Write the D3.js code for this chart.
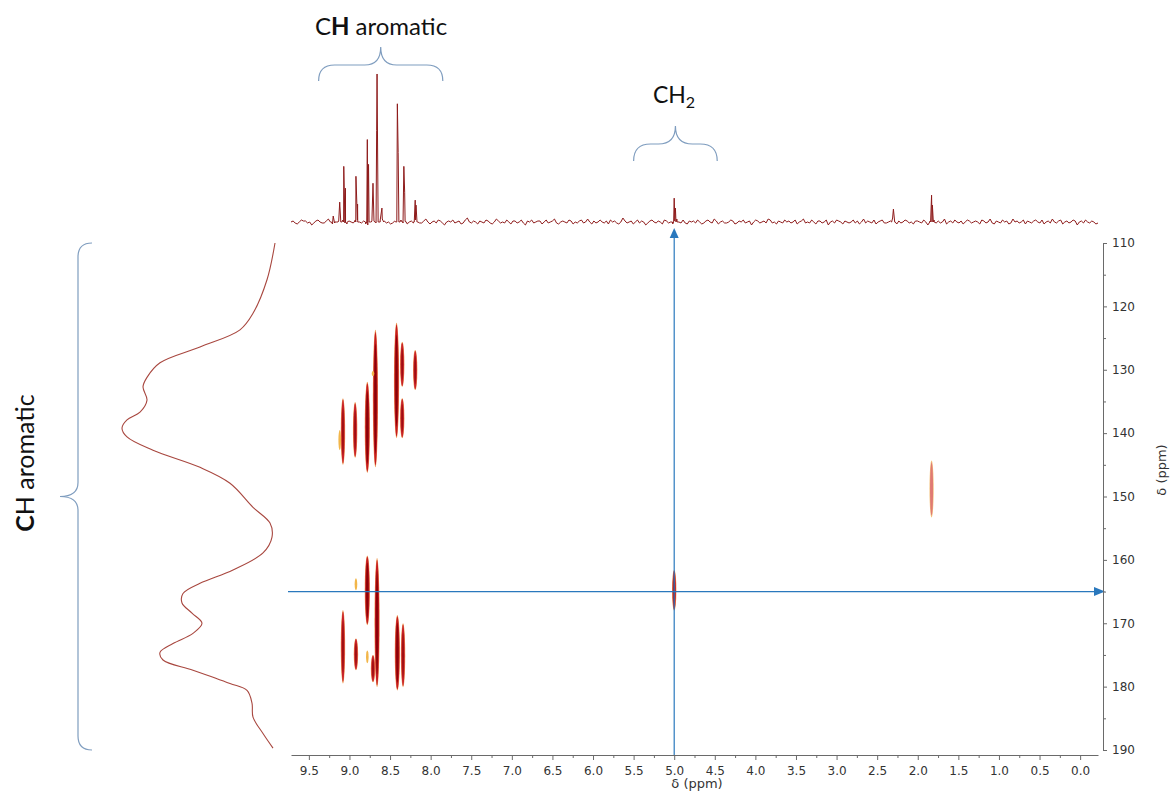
<!DOCTYPE html>
<html>
<head>
<meta charset="utf-8">
<script src="https://cdn.jsdelivr.net/npm/d3@7"></script>
<style>
  html, body { margin: 0; padding: 0; background: #fff; }
  svg { display: block; }
</style>
</head>
<body>
<svg id="chart" width="1173" height="796"></svg>
<script>
// ---- 1H (F2) axis ticks and 13C (F1) axis ticks ----
const hTicks = [9.5, 9.0, 8.5, 8.0, 7.5, 7.0, 6.5, 6.0, 5.5, 5.0, 4.5, 4.0, 3.5, 3.0, 2.5, 2.0, 1.5, 1.0, 0.5, 0.0];
const cTicks = [110, 120, 130, 140, 150, 160, 170, 180, 190];

// ---- 1D 1H trace above the map: peaks [ppm, height] ----
const protonPeaks = [
  [9.20, 6], [9.12, 20], [9.07, 56], [9.05, 34], [8.92, 46], [8.90, 18],
  [8.78, 83], [8.765, 58], [8.71, 39], [8.665, 92], [8.66, 149], [8.60, 14],
  [8.41, 119], [8.40, 70], [8.33, 56], [8.32, 30], [8.19, 22], [8.18, 17],
  [5.00, 24], [4.985, 14], [2.30, 13], [1.83, 27], [1.82, 17]
];
// baseline noise of the 1H trace, evenly spaced over the plotted range
const protonNoise = [
  0,1,-1,-2,0,2,1,1,-1,0,-3,-1,1,2,0,-1,-1,1,3,0,-2,-1,0,1,0,2,-1,-2,1,0,
  -1,2,2,0,-1,1,-2,-3,0,1,1,-1,0,2,3,1,-1,0,-2,-1,1,0,0,2,-1,1,-2,0,1,-1,
  2,0,-1,-1,1,3,0,-2,0,1,-1,2,1,-1,-3,0,1,0,2,-1,0,1,-2,-1,2,4,0,-1,1,0,
  -2,1,0,-1,2,1,-1,-2,0,3,1,-1,0,-1,2,0,-2,1,1,-1,0,2,-1,-3,1,0,2,-1,0,1,
  1,-2,0,2,-1,0,1,3,-1,-2,0,1,0,-1,2,1,-2,0,-1,1,2,-1,0,3,0,-2,1,-1,0,2,
  0,-1,1,-2,2,0,1,-1,-2,0,4,1,-1,0,1,-2,0,2,-1,1,0,-3,-1,1,2,0,-1,1,0,-2,
  2,1,-1,0,-2,1,3,0,-1,2,-1,-2,1,0,1,-1,2,0,-2,-1,1,2,0,-1,3,1,-2,0,1,-1,
  -1,0,2,1,-2,-1,1,0,2,-1,0,1,-3,0,2,1,-1,0,1,-1,3,2,-1,0,-2,1,0,-1,2,0,
  1,-1,0,2,-2,0,1,3,-1,0,-1,2,0,-2,1,1,-1,0,2,-3,0,1,-1,2,1,0,-2,1,0,-1,
  0,2,-1,1,-2,0,3,-1,1,0,-1,2,-2,0,1,2,-1,-1,0,1,4,0,-2,1,-1,0,2,1,-1,0,
  -2,1,1,0,-1,2,0,-3,1,0,2,-1,1,-1,0,3,-2,0,1,-1,2,0,-1,1,-2,0,2,1,-1,0,
  1,0,-2,2,1,-1,0,3,-1,-2,1,0,-1,2,0,1,-2,-1,3,0,1,-1,0,2,-2,1,0,-1,1,2,
  0,-1,2,-2,0,1,-1,3,0,-1,1,2,-2,0,1,-1,0,2,1,-3,0,1,-1,2,0,-1,1,0,-2,-1
];

// ---- 13C projection on the left: [ppm, intensity] ----
const carbonProjection = [
  [110.0, 3], [115.8, 11], [121.1, 25], [123.7, 38], [126.4, 78], [128.9, 118],
  [131.2, 131], [132.7, 135], [134.8, 131], [136.7, 138], [137.9, 151], [139.2, 156],
  [140.6, 151], [142.7, 125], [145.4, 78], [147.9, 48], [151.7, 25], [154.2, 8],
  [156.4, 6], [158.9, 15], [161.6, 45], [163.7, 78], [165.3, 95], [166.8, 96],
  [168.4, 86], [170.0, 76], [171.6, 85], [173.2, 105], [174.6, 118], [175.8, 115],
  [177.4, 85], [179.5, 48], [180.6, 31], [182.6, 26], [184.8, 25], [187.4, 15], [189.7, 5]
];

// ---- HSQC cross peaks: [1H ppm, 13C from, 13C to, level] ----
const crossPeaks = [
  [9.08, 134.5, 145.0, 2], [9.12, 139.5, 142.7, 0], [8.93, 135.1, 143.9, 2],
  [8.78, 131.9, 146.3, 3], [8.68, 123.7, 145.4, 3], [8.71, 130.2, 131.0, 0],
  [8.42, 122.6, 140.8, 3], [8.35, 125.6, 132.7, 2], [8.35, 134.5, 140.8, 2],
  [8.19, 126.9, 133.2, 2],
  [9.08, 167.9, 179.5, 2], [8.92, 162.9, 164.8, 0], [8.92, 172.4, 177.4, 2],
  [8.78, 159.3, 170.3, 3], [8.78, 174.3, 176.3, 0], [8.71, 175.0, 179.3, 2],
  [8.66, 159.7, 180.1, 3], [8.41, 168.7, 180.6, 3], [8.34, 170.0, 180.1, 2],
  [5.00, 161.6, 168.0, 2], [1.83, 144.3, 153.3, 1]
];

// ---- highlighted correlation (CH2) ----
const markH = 5.0;
const markC = 165.0;

// ---- scales ----
const svg = d3.select("#chart");
const x = d3.scaleLinear().domain([9.72, -0.22]).range([291, 1098]);
const y = d3.scaleLinear().domain([110, 190]).range([243, 750]);
const yTrace = d3.scaleLinear().domain([0, 150]).range([222, 73]);
const xProj = d3.scaleLinear().domain([0, 156]).range([278, 122]);

svg.append("rect").attr("width", 1173).attr("height", 796).attr("fill", "#fff");

// ---- 1H trace ----
const step = (x.domain()[0] - x.domain()[1]) / (protonNoise.length - 1);
const tracePts = protonNoise.map((v, i) => [x.domain()[0] - i * step, v]);
protonPeaks.forEach(([p, h]) => {
  tracePts.push([p + 0.022, 0], [p, h], [p - 0.022, 0]);
});
tracePts.sort((a, b) => b[0] - a[0]);
svg.append("path")
  .datum(tracePts)
  .attr("fill", "none")
  .attr("stroke", "#8e1b1b")
  .attr("stroke-width", 1)
  .attr("stroke-linejoin", "round")
  .attr("d", d3.line().x(d => x(d[0])).y(d => yTrace(d[1])));

// ---- 13C projection ----
svg.append("path")
  .datum(carbonProjection)
  .attr("fill", "none")
  .attr("stroke", "#a8473f")
  .attr("stroke-width", 1.1)
  .attr("d", d3.line().curve(d3.curveCatmullRom.alpha(0.5))
    .x(d => xProj(d[1])).y(d => y(d[0])));

// ---- cross peaks, drawn as nested contour levels ----
const levelStyles = {
  0: [{ dx: 1.3, dy: 1.0, fill: "#f2b64a" }],
  1: [{ dx: 2.1, dy: 1.0, fill: "#f4c27a" }, { dx: 1.5, dy: 0.93, fill: "#e07a74" }],
  2: [{ dx: 2.2, dy: 1.0, fill: "#ef9a55" }, { dx: 1.7, dy: 0.96, fill: "#c8222a" }, { dx: 0.9, dy: 0.7, fill: "#9e0d12" }],
  3: [{ dx: 2.6, dy: 1.0, fill: "#ef9a55" }, { dx: 2.1, dy: 0.97, fill: "#c41a22" }, { dx: 1.2, dy: 0.8, fill: "#8a0308" }]
};
const peakG = svg.append("g");
crossPeaks.forEach(([h, c0, c1, lvl]) => {
  const cx = x(h), cy = y((c0 + c1) / 2), ry = Math.abs(y(c1) - y(c0)) / 2;
  levelStyles[lvl].forEach(s => {
    peakG.append("ellipse")
      .attr("cx", cx).attr("cy", cy)
      .attr("rx", s.dx).attr("ry", Math.max(ry * s.dy, 1.5))
      .attr("fill", s.fill);
  });
});

// ---- highlight lines with arrows ----
const blue = "#2a78bd";
svg.append("line")
  .attr("x1", x(markH)).attr("x2", x(markH))
  .attr("y1", 236).attr("y2", 755)
  .attr("stroke", blue).attr("stroke-width", 1.2);
svg.append("path")
  .attr("d", `M${x(markH)},228 L${x(markH) - 4.5},238 L${x(markH) + 4.5},238 Z`)
  .attr("fill", blue);
svg.append("line")
  .attr("x1", 288).attr("x2", 1096)
  .attr("y1", y(markC)).attr("y2", y(markC))
  .attr("stroke", blue).attr("stroke-width", 1.2);
svg.append("path")
  .attr("d", `M1105,${y(markC)} L1094,${y(markC) - 4.5} L1094,${y(markC) + 4.5} Z`)
  .attr("fill", blue);

// ---- axes ----
const minorH = d3.range(0.25, 9.72, 0.5);
svg.append("g").attr("transform", "translate(0,755)")
  .call(d3.axisBottom(x).tickValues(hTicks).tickFormat(d3.format(".1f")).tickSize(5).tickSizeOuter(0).tickPadding(6));
svg.append("g").attr("transform", "translate(0,755)")
  .call(d3.axisBottom(x).tickValues(minorH).tickFormat("").tickSize(3).tickSizeOuter(0))
  .select(".domain").remove();

const minorC = d3.range(115, 190, 10);
svg.append("g").attr("transform", "translate(1103,0)")
  .call(d3.axisRight(y).tickValues(cTicks).tickSize(4).tickSizeOuter(4).tickPadding(5));
svg.append("g").attr("transform", "translate(1103,0)")
  .call(d3.axisRight(y).tickValues(minorC).tickFormat("").tickSize(3).tickSizeOuter(0))
  .select(".domain").remove();

svg.selectAll(".domain").attr("stroke", "#6a6a6a");
svg.selectAll(".tick line").attr("stroke", "#6a6a6a");
svg.selectAll(".tick text")
  .attr("font-family", "'DejaVu Sans', Verdana, sans-serif")
  .attr("font-size", 12)
  .attr("fill", "#333");

svg.append("text")
  .attr("x", 697).attr("y", 788)
  .attr("text-anchor", "middle")
  .attr("font-family", "'DejaVu Sans', Verdana, sans-serif")
  .attr("font-size", 13).attr("fill", "#333")
  .text("δ (ppm)");
svg.append("text")
  .attr("transform", "translate(1166,470) rotate(-90)")
  .attr("text-anchor", "middle")
  .attr("font-family", "'DejaVu Sans', Verdana, sans-serif")
  .attr("font-size", 13).attr("fill", "#333")
  .text("δ (ppm)");

// ---- group braces and labels ----
const braceColor = "#7f9dbf";
function hBrace(x0, x1, yEnd, yBar, yTip) {
  const xm = (x0 + x1) / 2, r = yEnd - yBar;
  return `M${x0},${yEnd} Q${x0},${yBar} ${x0 + r},${yBar} L${xm - r},${yBar} Q${xm},${yBar} ${xm},${yTip}` +
         ` Q${xm},${yBar} ${xm + r},${yBar} L${x1 - r},${yBar} Q${x1},${yBar} ${x1},${yEnd}`;
}
svg.append("path").attr("d", hBrace(x(9.38), x(7.85), 81, 65, 47))
  .attr("fill", "none").attr("stroke", braceColor).attr("stroke-width", 1.2);
svg.append("path").attr("d", hBrace(x(5.5), x(4.47), 161, 144, 126))
  .attr("fill", "none").attr("stroke", braceColor).attr("stroke-width", 1.2);

// left brace, spanning the whole 13C range
(function () {
  const y0 = y(110), y1 = y(190), ym = (y0 + y1) / 2, xb = 78, xe = 92, xt = 60, r = 14;
  svg.append("path")
    .attr("d", `M${xe},${y0} Q${xb},${y0} ${xb},${y0 + r} L${xb},${ym - r} Q${xb},${ym} ${xt},${ym}` +
               ` Q${xb},${ym} ${xb},${ym + r} L${xb},${y1 - r} Q${xb},${y1} ${xe},${y1}`)
    .attr("fill", "none").attr("stroke", braceColor).attr("stroke-width", 1.2);
})();

const labelFont = "Lato, 'Open Sans', sans-serif";
const topLabel = svg.append("text")
  .attr("x", 381).attr("y", 35).attr("text-anchor", "middle")
  .attr("font-family", labelFont).attr("font-size", 24).attr("fill", "#111");
topLabel.append("tspan").text("C");
topLabel.append("tspan").attr("font-weight", "bold").text("H");
topLabel.append("tspan").text(" aromatic");

const ch2 = svg.append("text")
  .attr("x", 674).attr("y", 103).attr("text-anchor", "middle")
  .attr("font-family", labelFont).attr("font-size", 23).attr("fill", "#111");
ch2.append("tspan").text("CH");
ch2.append("tspan").attr("font-size", 16).attr("dy", 5).text("2");

const leftLabel = svg.append("text")
  .attr("transform", "translate(34,463) rotate(-90)")
  .attr("text-anchor", "middle")
  .attr("font-family", labelFont).attr("font-size", 25).attr("fill", "#111");
leftLabel.append("tspan").attr("font-weight", "bold").text("C");
leftLabel.append("tspan").text("H aromatic");
</script>
</body>
</html>
